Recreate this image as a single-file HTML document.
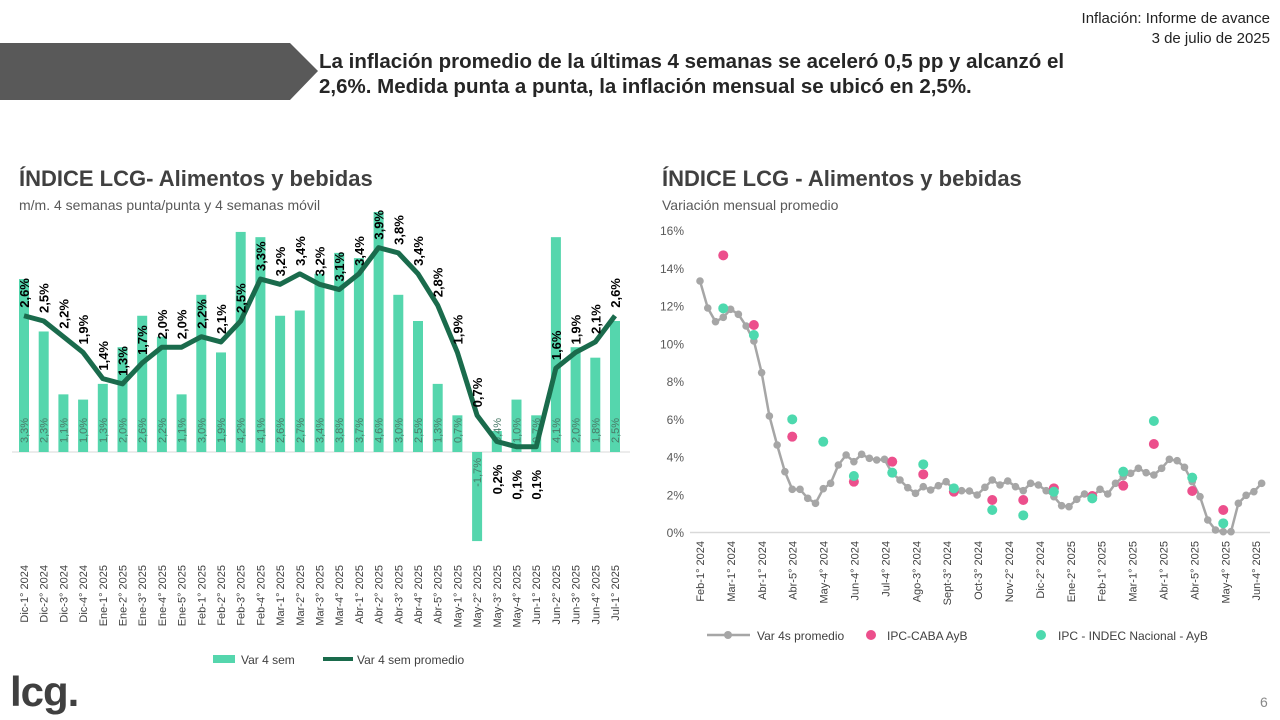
<!DOCTYPE html>
<html><head><meta charset="utf-8"><style>
body{margin:0;width:1280px;height:720px;background:#fff;font-family:"Liberation Sans",sans-serif;overflow:hidden;position:relative}
.t{position:absolute;white-space:nowrap}
</style></head><body>
<svg width="1280" height="720" style="position:absolute;left:0;top:0">
<polygon points="0,43 290,43 318,71 290,100 0,100" fill="#595959"/>
<g id="L"></g><g id="R"></g>
</svg>
<div class="t" style="right:10px;top:9px;font-size:15px;color:#222;text-align:right;line-height:20px">Inflación: Informe de avance<br>3 de julio de 2025</div>
<div class="t" style="left:319px;top:49px;font-size:20.5px;font-weight:bold;color:#262626;line-height:25px">La inflación promedio de la últimas 4 semanas se aceleró 0,5 pp y alcanzó el<br>2,6%. Medida punta a punta, la inflación mensual se ubicó en 2,5%.</div>
<div class="t" style="left:19px;top:166px;font-size:22px;font-weight:bold;color:#404040">ÍNDICE LCG- Alimentos y bebidas</div>
<div class="t" style="left:19px;top:197px;font-size:14px;color:#595959">m/m. 4 semanas punta/punta y 4 semanas móvil</div>
<div class="t" style="left:662px;top:166px;font-size:22px;font-weight:bold;color:#404040">ÍNDICE LCG - Alimentos y bebidas</div>
<div class="t" style="left:662px;top:197px;font-size:14px;color:#595959">Variación mensual promedio</div>
<div class="t" style="left:10px;top:668px;font-size:42px;font-weight:bold;color:#404040;letter-spacing:-1px">lcg.</div>
<div class="t" style="left:1260px;top:694px;font-size:14px;color:#888">6</div>
<script>
const NS="http://www.w3.org/2000/svg";
function el(p,t,a,txt){const e=document.createElementNS(NS,t);for(const k in a)e.setAttribute(k,a[k]);if(txt!=null)e.textContent=txt;p.appendChild(e);return e;}
const L=document.getElementById('L');
const cats=["Dic-1° 2024","Dic-2° 2024","Dic-3° 2024","Dic-4° 2024","Ene-1° 2025","Ene-2° 2025","Ene-3° 2025","Ene-4° 2025","Ene-5° 2025","Feb-1° 2025","Feb-2° 2025","Feb-3° 2025","Feb-4° 2025","Mar-1° 2025","Mar-2° 2025","Mar-3° 2025","Mar-4° 2025","Abr-1° 2025","Abr-2° 2025","Abr-3° 2025","Abr-4° 2025","Abr-5° 2025","May-1° 2025","May-2° 2025","May-3° 2025","May-4° 2025","Jun-1° 2025","Jun-2° 2025","Jun-3° 2025","Jun-4° 2025","Jul-1° 2025"];
const bars=[3.3,2.3,1.1,1.0,1.3,2.0,2.6,2.2,1.1,3.0,1.9,4.2,4.1,2.6,2.7,3.4,3.8,3.7,4.6,3.0,2.5,1.3,0.7,-1.7,0.4,1.0,0.7,4.1,2.0,1.8,2.5];
const line=[2.6,2.5,2.2,1.9,1.4,1.3,1.7,2.0,2.0,2.2,2.1,2.5,3.3,3.2,3.4,3.2,3.1,3.4,3.9,3.8,3.4,2.8,1.9,0.7,0.2,0.1,0.1,1.6,1.9,2.1,2.6];
const Z=452,K=52.4;
const f=v=>v.toFixed(1).replace('.',',')+'%';
el(L,'line',{x1:12,x2:630,y1:Z,y2:Z,stroke:'#d9d9d9','stroke-width':1});
let pts=[];
cats.forEach((c,i)=>{
 const x=24+i*19.7, v=bars[i];
 const top=Math.max(212,Z-v*K);
 el(L,'rect',{x:x-5,y:v>=0?top:Z,width:10,height:Math.abs(Z-top),fill:'#55d6ad'});
 el(L,'text',{x:0,y:0,transform:`translate(${x+4},${v>=0?443:458}) rotate(-90)`,'font-size':11,fill:'#4a7a68','text-anchor':v>=0?'start':'end'},f(v));
 el(L,'text',{x:0,y:0,transform:`translate(${x+4},565) rotate(-90)`,'font-size':11,fill:'#404040','text-anchor':'end'},c);
 pts.push([x,Z-line[i]*K]);
});
el(L,'polyline',{points:pts.map(p=>p.join(',')).join(' '),fill:'none',stroke:'#1a6b4c','stroke-width':5,'stroke-linejoin':'round'});
pts.forEach((p,i)=>{
 const below=(i>=24&&i<=26);
 el(L,'text',{x:0,y:0,transform:`translate(${p[0]+5},${below?p[1]+38:p[1]-8}) rotate(-90)`,'font-size':13,'font-weight':'bold',fill:'#000','text-anchor':below?'middle':'start'},f(line[i]));
});
el(L,'rect',{x:213,y:655,width:22,height:8,fill:'#55d6ad'});
el(L,'text',{x:241,y:664,'font-size':12,fill:'#404040'},'Var 4 sem');
el(L,'line',{x1:323,x2:353,y1:659,y2:659,stroke:'#1a6b4c','stroke-width':4});
el(L,'text',{x:357,y:664,'font-size':12,fill:'#404040'},'Var 4 sem promedio');

const R=document.getElementById('R');
for(let k=0;k<=8;k++){const y=532-k*37.75;el(R,'text',{x:684,y:y+5,'font-size':12,fill:'#595959','text-anchor':'end'},(k*2)+'%');}
el(R,'line',{x1:690,x2:1270,y1:532.5,y2:532.5,stroke:'#d9d9d9','stroke-width':1.5});
const G=[[147,183],[166,264],[185,305],[204,292],[222,268],[241,283],[260,318],[279,363],[298,458],[317,588],[336,675],[355,755],[373,808],[392,808],[411,835],[430,850],[449,806],[467,790],[486,735],[505,705],[524,725],[543,703],[562,715],[580,720],[599,718],[618,760],[637,780],[656,803],[675,820],[694,800],[712,810],[731,797],[750,785],[769,808],[788,812],[807,813],[826,825],[845,802],[863,780],[882,795],[901,783],[920,800],[939,812],[957,790],[976,795],[995,812],[1014,830],[1033,857],[1051,860],[1070,838],[1089,822],[1108,830],[1127,808],[1146,822],[1165,790],[1184,770],[1202,760],[1221,745],[1240,758],[1259,765],[1278,745],[1297,718],[1316,722],[1334,742],[1353,785],[1372,830],[1391,900],[1410,930],[1429,935],[1448,935],[1466,850],[1485,826],[1504,815],[1523,790]];
const P=[[204,106],[279,315],[373,650],[524,785],[618,725],[694,763],[769,815],[863,840],[939,840],[1014,805],[1108,828],[1184,797],[1259,672],[1353,813],[1429,870]];
const N=[[204,265],[279,345],[373,598],[449,665],[524,768],[618,758],[694,733],[769,805],[863,870],[939,886],[1014,815],[1108,835],[1184,755],[1259,603],[1353,773],[1429,910]];
const T=p=>[640+p[0]/2.45,220+p[1]/3];
el(R,'polyline',{points:G.map(p=>T(p).join(',')).join(' '),fill:'none',stroke:'#a6a6a6','stroke-width':2.5});
G.forEach(p=>{const q=T(p);el(R,'circle',{cx:q[0],cy:q[1],r:3.8,fill:'#a6a6a6'});});
P.forEach(p=>{const q=T(p);el(R,'circle',{cx:q[0],cy:q[1],r:5,fill:'#ec4f8c'});});
N.forEach(p=>{const q=T(p);el(R,'circle',{cx:q[0],cy:q[1],r:5,fill:'#4dd9ae'});});
const rl=["Feb-1° 2024","Mar-1° 2024","Abr-1° 2024","Abr-5° 2024","May-4° 2024","Jun-4° 2024","Jul-4° 2024","Ago-3° 2024","Sept-3° 2024","Oct-3° 2024","Nov-2° 2024","Dic-2° 2024","Ene-2° 2025","Feb-1° 2025","Mar-1° 2025","Abr-1° 2025","Abr-5° 2025","May-4° 2025","Jun-4° 2025"];
rl.forEach((c,i)=>{const x=704+i*30.9;el(R,'text',{x:0,y:0,transform:`translate(${x},541) rotate(-90)`,'font-size':11,fill:'#404040','text-anchor':'end'},c);});
el(R,'line',{x1:707,x2:750,y1:635,y2:635,stroke:'#a6a6a6','stroke-width':2.5});
el(R,'circle',{cx:728,cy:635,r:4,fill:'#a6a6a6'});
el(R,'text',{x:757,y:640,'font-size':12,fill:'#404040'},'Var 4s promedio');
el(R,'circle',{cx:871,cy:635,r:5,fill:'#ec4f8c'});
el(R,'text',{x:887,y:640,'font-size':12,fill:'#404040'},'IPC-CABA AyB');
el(R,'circle',{cx:1041,cy:635,r:5,fill:'#4dd9ae'});
el(R,'text',{x:1058,y:640,'font-size':12,fill:'#404040'},'IPC - INDEC Nacional - AyB');
</script>
</body></html>
